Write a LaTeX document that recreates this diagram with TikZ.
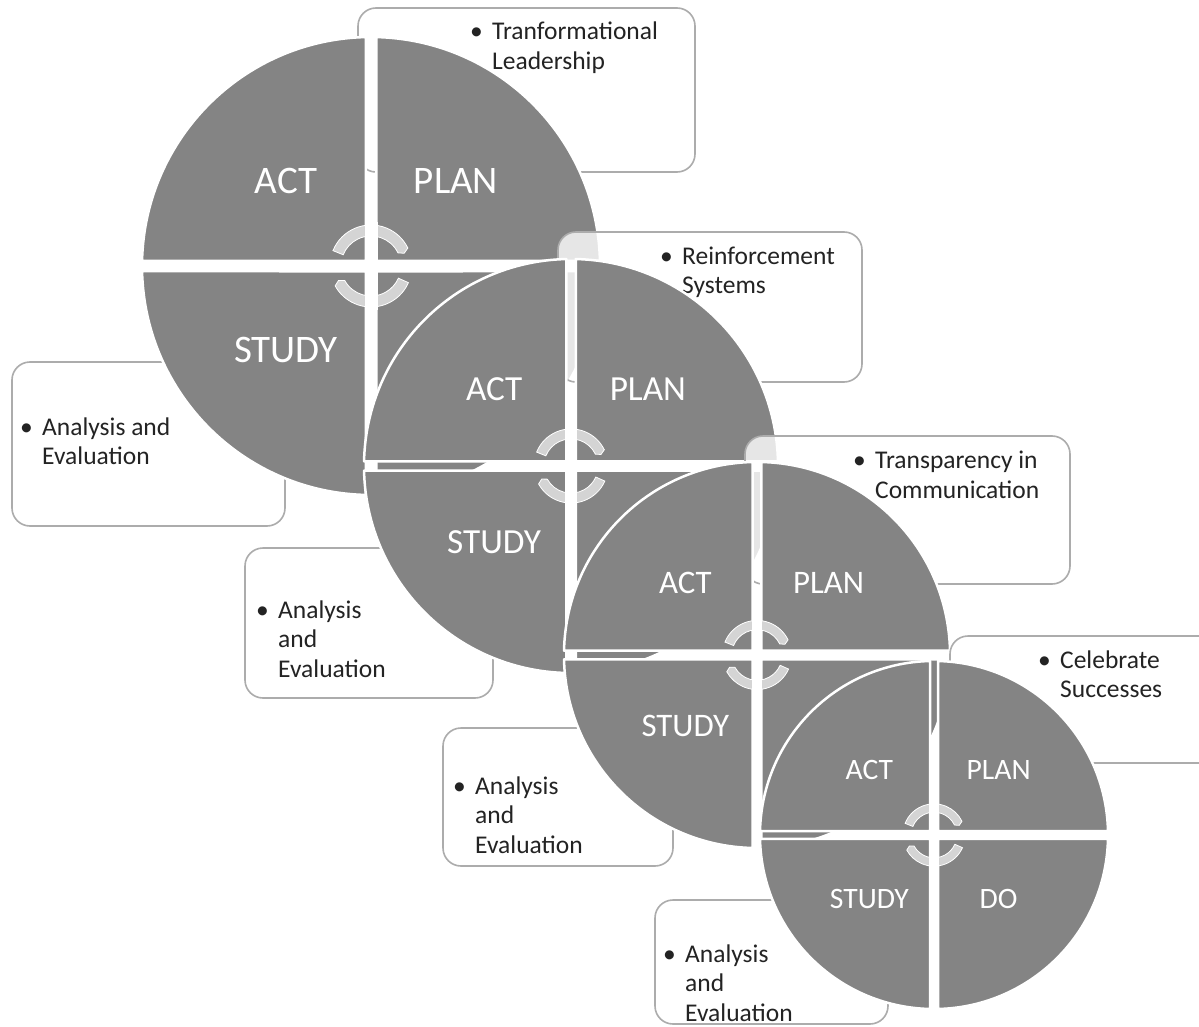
\documentclass[tikz,border=0pt]{standalone}
\usepackage{fontspec}
\setmainfont{Carlito}

\definecolor{quad}{RGB}{132,132,132}
\definecolor{cyc}{RGB}{212,212,212}
\definecolor{boxline}{RGB}{172,172,172}
\definecolor{ink}{RGB}{35,35,35}

\tikzset{
  quadrant/.style={fill=quad, draw=white, line width=2.5pt, line join=round},
  cyclearrow/.style={fill=cyc, draw=white, line width=0.8pt},
  notebox/.style={draw=boxline, line width=1.6pt, rounded corners=18pt, fill=white, fill opacity=0.8},
  % anchored at the baseline of the last line
  notetext/.style={anchor=base west, align=left, inner sep=0pt, text=ink,
    font=\fontsize{25.5}{29.5}\selectfont},
  qlabel/.style={text=white, inner sep=0pt, font=\fontsize{39}{39}\selectfont},
}

% #1 index, #2 x, #3 y, #4 scale, #5 content of the lower right quadrant
\newcommand\pdsacircle[5]{%
  \begin{scope}[shift={(#2,#3)}, scale=#4, transform shape]
    % four quarter discs, separated by an open cross
    \path[quadrant] (5.25,-5.25) -- (-88.686:229) arc[start angle=-88.686, end angle=-1.314, radius=229] -- cycle;
    \path[quadrant] (5.25,5.25) -- (1.314:229) arc[start angle=1.314, end angle=88.686, radius=229] -- cycle;
    \path[quadrant] (-5.25,5.25) -- (91.314:229) arc[start angle=91.314, end angle=178.686, radius=229] -- cycle;
    \path[quadrant] (-5.25,-5.25) -- (181.314:229) arc[start angle=181.314, end angle=268.686, radius=229] -- cycle;
    % circular arrows in the middle
    \path[cyclearrow] (202:41) arc[start angle=202, end angle=334, radius=41] -- (339:35.5) -- (334:30) arc[start angle=334, end angle=202, radius=30] -- cycle;
    \path[cyclearrow] (24:41) arc[start angle=24, end angle=151, radius=41] -- (156:35.5) -- (151:30) arc[start angle=151, end angle=24, radius=30] -- cycle;
    \fill[white] (-6.5,-44) rectangle (6.5,44);
    % quadrant labels
    \node[qlabel] (act#1) at (-85,-85) {ACT};
    \node[qlabel] (plan#1) at (85,-85) {PLAN};
    \node[qlabel] (study#1) at (-85,84) {STUDY};
    \node[qlabel] (do#1) at (85,84) {#5};
  \end{scope}}

\begin{document}
\begin{tikzpicture}[x=1pt, y=-1pt]
  \useasboundingbox (0,0) rectangle (1199,1027);
  \fill[white] (0,0) rectangle (1199,1027);
  \clip (0,0) rectangle (1199,1027);

  % first cycle
  \path[notebox] (358,8) rectangle (695,172);
  \node[notetext] (note1a) at (492,69.5) {\llap{\textbullet\hspace{9.5pt}}Tranformational\\Leadership};
  \path[notebox] (12,362) rectangle (285,526);
  \node[notetext] (note1b) at (42,464.5) {\llap{\textbullet\hspace{9.5pt}}Analysis and\\Evaluation};
  \pdsacircle{1}{371}{266}{1}{}

  % second cycle
  \path[notebox] (558,232) rectangle (862,382);
  \node[notetext] (note2a) at (682,293.5) {\llap{\textbullet\hspace{9.5pt}}Reinforcement\\Systems};
  \path[notebox] (245,548) rectangle (493,698);
  \node[notetext] (note2b) at (278,677) {\llap{\textbullet\hspace{9.5pt}}Analysis\\and\\Evaluation};
  \pdsacircle{2}{571}{466}{0.904}{}

  % third cycle
  \path[notebox] (745,436) rectangle (1070,584);
  \node[notetext] (note3a) at (875,498) {\llap{\textbullet\hspace{9.5pt}}Transparency in\\Communication};
  \path[notebox] (443,728) rectangle (673,866);
  \node[notetext] (note3b) at (475,853) {\llap{\textbullet\hspace{9.5pt}}Analysis\\and\\Evaluation};
  \pdsacircle{3}{757}{655}{0.843}{}

  % fourth cycle
  \path[notebox] (950,636) rectangle (1220,763);
  \node[notetext] (note4a) at (1060,697.5) {\llap{\textbullet\hspace{9.5pt}}Celebrate\\Successes};
  \path[notebox] (655,900) rectangle (888,1024);
  \node[notetext] (note4b) at (685,1021) {\llap{\textbullet\hspace{9.5pt}}Analysis\\and\\Evaluation};
  \pdsacircle{4}{934}{835}{0.76}{DO}
\end{tikzpicture}
\end{document}
